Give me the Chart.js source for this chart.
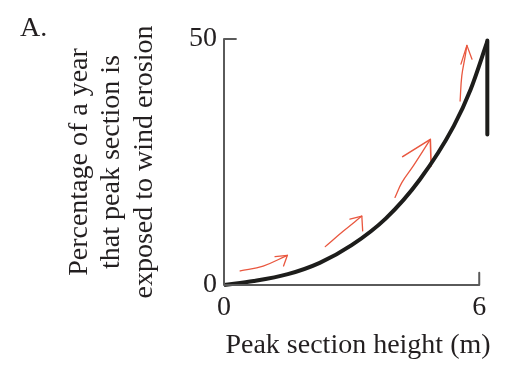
<!DOCTYPE html>
<html>
<head>
<meta charset="utf-8">
<script src="https://cdn.jsdelivr.net/npm/chart.js@4/dist/chart.umd.min.js"></script>
<style>
html, body { margin: 0; padding: 0; background: #fff; }
</style>
</head>
<body>
<canvas id="myChart" width="516" height="372"></canvas>
<script>
// valeurs
const panelLabel = 'A.';
const xTitle = 'Peak section height (m)';
const yTitle = ['Percentage of a year', 'that peak section is', 'exposed to wind erosion'];
const xTicks = [0, 6];
const yTicks = [0, 50];

// courbe noire
const curveX = [0, 0.7, 1.5, 2.25, 3.0, 3.8, 4.6, 5.4, 5.8, 6.19];
const curveY = [0, 0.8, 2.2, 4.5, 8.1, 13.5, 21.4, 32.3, 39.8, 49.5];
// trait vertical au bout
const dropX = [6.19, 6.19];
const dropY = [49.7, 30.6];
// cadre des axes (avec les petits traits aux bouts)
const frameX = [0.28, 0, 0, 6, 6];
const frameY = [50, 50, 0, 0, 2.5];

// fleches rouges : tige puis pointe
const arrow1X = [0.38, 0.92, 1.49];
const arrow1Y = [2.85, 3.86, 6.04];
const head1X = [1.20, 1.49, 1.40];
const head1Y = [5.75, 6.04, 3.86];
const arrow2X = [2.38, 2.80, 3.24];
const arrow2Y = [7.8, 10.9, 14.0];
const head2X = [2.96, 3.24, 3.26];
const head2Y = [13.4, 14.0, 11.0];
const arrow3X = [4.02, 4.18, 4.45, 4.85];
const arrow3Y = [17.8, 20.8, 24.2, 29.6];
const head3X = [4.20, 4.85, 4.87];
const head3Y = [26.1, 29.6, 24.2];
const arrow4X = [5.55, 5.59, 5.67, 5.71];
const arrow4Y = [37.4, 42.5, 46.5, 48.7];
const head4X = [5.57, 5.71, 5.83];
const head4Y = [44.9, 48.7, 45.9];

const serif = "'Liberation Serif', 'Times New Roman', serif";
const ink = '#231f20';
const red = '#e9573f';

function pts(xs, ys) {
    return xs.map((x, i) => ({x: x, y: ys[i]}));
}

function ligne(xs, ys, color, width, tension) {
    return {
        data: pts(xs, ys),
        showLine: true,
        borderColor: color,
        borderWidth: width,
        pointRadius: 0,
        tension: tension,
        clip: false,
        borderCapStyle: 'round',
        borderJoinStyle: 'round'
    };
}

const datasets = [
    ligne(frameX, frameY, '#5a5a5a', 2, 0),
    Object.assign(ligne(curveX, curveY, '#1d1d1b', 4, 0), {cubicInterpolationMode: 'monotone', borderCapStyle: 'butt'}),
    Object.assign(ligne(dropX, dropY, '#1d1d1b', 4, 0), {borderCapStyle: 'butt'}),
    ligne(arrow1X, arrow1Y, red, 1.3, 0.4),
    ligne(head1X, head1Y, red, 1.3, 0),
    ligne(arrow2X, arrow2Y, red, 1.3, 0.4),
    ligne(head2X, head2Y, red, 1.3, 0),
    ligne(arrow3X, arrow3Y, red, 1.3, 0.4),
    ligne(head3X, head3Y, red, 1.6, 0),
    ligne(arrow4X, arrow4Y, red, 1.3, 0.4),
    ligne(head4X, head4Y, red, 1.3, 0)
];

// le "A." en haut a gauche
const panelPlugin = {
    id: 'panel',
    afterDraw(chart) {
        const c = chart.ctx;
        c.save();
        c.font = '28px ' + serif;
        c.fillStyle = ink;
        c.textBaseline = 'alphabetic';
        c.fillText(panelLabel, 20, 36);
        c.restore();
    }
};

const ctx = document.getElementById('myChart');
const graphique = new Chart(ctx.getContext('2d'), {
    type: 'scatter',
    data: {datasets: datasets},
    plugins: [panelPlugin],
    options: {
        responsive: false,
        animation: false,
        layout: {padding: {left: 63, top: 39, right: 24, bottom: 10}},
        plugins: {legend: {display: false}, tooltip: {enabled: false}},
        scales: {
            x: {
                type: 'linear',
                min: 0,
                max: 6.3,
                afterBuildTicks: s => { s.ticks = xTicks.map(v => ({value: v})); },
                afterFit: s => { s.height = 77; },
                grid: {display: false, drawTicks: false},
                border: {display: false},
                ticks: {
                    padding: 6,
                    color: ink,
                    maxRotation: 0,
                    font: {family: serif, size: 28, lineHeight: 1.2}
                },
                title: {
                    display: true,
                    text: xTitle,
                    color: ink,
                    padding: 0,
                    font: {family: serif, size: 28, lineHeight: 1.16}
                }
            },
            y: {
                min: 0,
                max: 50,
                afterBuildTicks: s => { s.ticks = yTicks.map(v => ({value: v})); },
                afterFit: s => { s.width = 161; },
                grid: {display: false, drawTicks: false},
                border: {display: false},
                ticks: {
                    padding: 7,
                    color: ink,
                    font: {family: serif, size: 28, lineHeight: 1.2}
                },
                title: {
                    display: true,
                    text: yTitle,
                    color: ink,
                    padding: 0,
                    font: {family: serif, size: 28, lineHeight: 1.16}
                }
            }
        }
    }
});
</script>
</body>
</html>
